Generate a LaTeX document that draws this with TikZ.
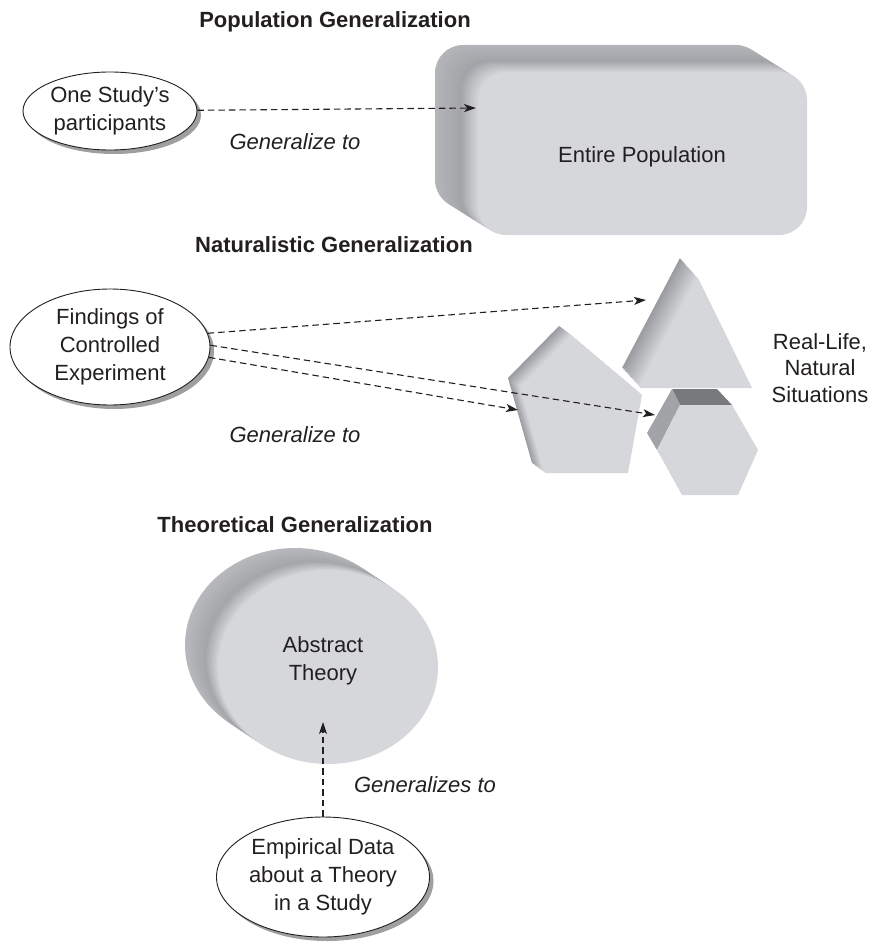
\documentclass[tikz,border=0pt]{standalone}
\usepackage{fontspec}
\setmainfont{Liberation Sans}
\usetikzlibrary{arrows.meta,positioning,shapes.geometric,shadows}

\definecolor{ink}{RGB}{35,31,32}
\definecolor{facegray}{RGB}{214,215,219}
\definecolor{sidegray}{RGB}{135,136,140}
\definecolor{topgray}{RGB}{120,121,125}
\definecolor{leftgray}{RGB}{162,163,167}

\begin{document}
\begin{tikzpicture}[x=1pt,y=-1pt,>={Stealth[length=12pt,width=8pt,inset=3pt]},
    font=\fontsize{22}{28}\selectfont,text=ink]
  \tikzstyle{title}=[font=\fontsize{22}{28}\selectfont\bfseries]
  \tikzstyle{oval}=[ellipse,draw=ink,fill=white,line width=0.9pt,align=center,inner sep=0pt,
    drop shadow={shadow xshift=4pt,shadow yshift=-4pt,fill=gray!75,opacity=1}]
  \tikzstyle{link}=[draw=ink,line width=1.1pt,dash pattern=on 6.5pt off 4pt,->]
  \tikzstyle{verb}=[font=\fontsize{22}{28}\selectfont\itshape]
  \useasboundingbox (0,0) rectangle (872,942);

  % population
  \node[title] (poptitle) at (335,22) {Population Generalization};
  \foreach \i in {0,...,24} {
    \pgfmathtruncatemacro\p{\i<14 ? 58-22*\i/14 : 36+64*(\i-14)/10}
    \fill[facegray!\p!sidegray,rounded corners=28pt,shift={({43*\i/24},{27*\i/24})}]
      (435,45) rectangle (764,208);
  }
  \node (popname) at (642,157) {Entire Population};
  \coordinate (popin) at (476,108);
  \node[oval,minimum width=174pt,minimum height=78pt] (study) at (110,111) {One Study's\\participants};
  \draw[link] (study) -- (popin);
  \node[verb] (gen1) at (295,142) {Generalize to};

  % naturalistic
  \node[title] (nattitle) at (334,245) {Naturalistic Generalization};
  \foreach \i in {0,...,16} {
    \pgfmathtruncatemacro\p{min(100,25+5*\i)}
    \fill[facegray!\p!sidegray,shift={({18*\i/16},{20*\i/16})}]
      (680,258) -- (734,368) -- (622,368) -- cycle;
  }
  \foreach \i in {0,...,12} {
    \pgfmathtruncatemacro\p{min(100,25+7*\i)}
    \fill[facegray!\p!sidegray,shift={({13*\i/12},{10*\i/12})}]
      (559,326) -- (629,385) -- (615,463) -- (532,463) -- (508,378) -- cycle;
  }
  \fill[topgray] (672,389) -- (717,389) -- (732,405) -- (680,405) -- cycle;
  \fill[leftgray] (672,389) -- (680,405) -- (657,450) -- (647,433) -- cycle;
  \fill[facegray] (680,405) -- (732,405) -- (758,450) -- (738,495) -- (682,495) -- (657,450) -- cycle;
  \node[align=center] (natname) at (820,368) {Real-Life,\\[-1.5pt]Natural\\[-1.5pt]Situations};
  \coordinate (triin) at (646,300);
  \coordinate (hexin) at (655,415);
  \coordinate (pentin) at (518,410);
  \node[oval,minimum width=200pt,minimum height=116pt] (findings) at (110,347) {Findings of\\Controlled\\Experiment};
  \draw[link] (findings.8) -- (triin);
  \draw[link] (findings.1) -- (hexin);
  \draw[link] (findings.-6) -- (pentin);
  \node[verb] (gen2) at (295,435) {Generalize to};

  % theoretical
  \node[title] (theotitle) at (295,525) {Theoretical Generalization};
  \foreach \i in {0,...,20} {
    \pgfmathtruncatemacro\p{\i<12 ? 62-24*\i/12 : 38+62*(\i-12)/8}
    \fill[facegray!\p!sidegray,shift={({33*\i/20},{22*\i/20})}]
      (295,645) ellipse [x radius=110pt,y radius=97pt];
  }
  \node[align=center] (theory) at (323,661) {Abstract\\Theory};
  \coordinate (theoin) at (323,722);
  \node[oval,minimum width=213pt,minimum height=120pt] (data) at (323,877) {Empirical Data\\about a Theory\\in a Study};
  \draw[link] (data) -- (theoin);
  \node[verb] (gen3) at (425,785) {Generalizes to};
\end{tikzpicture}
\end{document}
